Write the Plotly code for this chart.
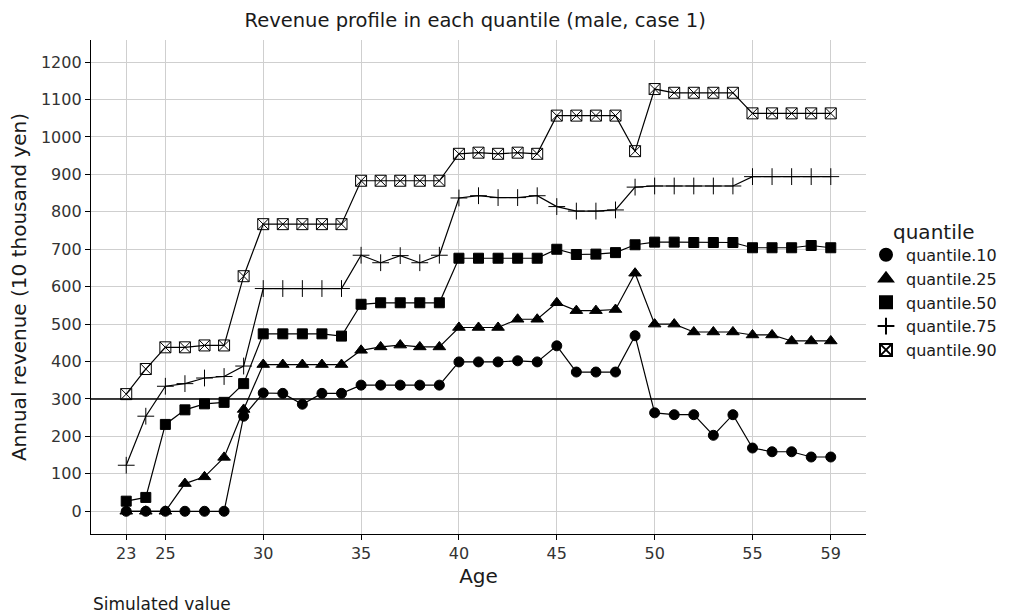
import plotly.graph_objects as go

# Age axis and revenue per quantile (10 thousand yen)
ages = list(range(23, 60))

q10 = [0, 0, 0, 0, 0, 0, 254, 316, 315, 286, 315, 315,
       337, 337, 337, 337, 337, 399, 399, 399, 402, 399,
       442, 372, 372, 372, 469, 263, 258, 258, 203, 258,
       169, 159, 159, 145, 145]
q25 = [0, 0, 0, 74, 92, 144, 272, 392, 392, 392, 392, 392,
       430, 439, 444, 439, 439, 491, 491, 491, 513, 513,
       557, 536, 536, 539, 636, 500, 500, 479, 479, 479,
       471, 471, 455, 455, 455]
q50 = [27, 37, 232, 271, 287, 291, 341, 474, 474, 474, 474, 468,
       553, 557, 557, 557, 557, 676, 676, 676, 676, 676,
       700, 686, 687, 691, 712, 719, 719, 718, 718, 718,
       704, 704, 704, 710, 704]
q75 = [123, 254, 334, 341, 356, 360, 388, 595, 595, 595, 595, 595,
       684, 664, 683, 664, 684, 837, 843, 838, 838, 843,
       814, 802, 802, 805, 866, 869, 869, 869, 869, 869,
       894, 894, 894, 894, 894]
q90 = [313, 380, 438, 438, 443, 443, 628, 767, 767, 767, 767, 767,
       883, 883, 883, 883, 883, 955, 958, 955, 958, 955,
       1057, 1057, 1057, 1057, 962, 1128, 1118, 1118, 1118, 1118,
       1063, 1063, 1063, 1063, 1063]

series = [
    ("quantile.10", q10, "circle", 10),
    ("quantile.25", q25, "triangle-up", 11),
    ("quantile.50", q50, "square", 10),
    ("quantile.75", q75, "cross-thin-open", 12),
    ("quantile.90", q90, "square-x-open", 11),
]

reference_line = 300
x_ticks = [23, 25, 30, 35, 40, 45, 50, 55, 59]
y_ticks = list(range(0, 1300, 100))

FONT = "DejaVu Sans"
TEXT = "#1a1a1a"
fig = go.Figure()

# connecting lines (kept out of the legend)
for name, vals, sym, sz in series:
    fig.add_trace(go.Scatter(
        x=ages, y=vals, mode="lines",
        line=dict(color="black", width=1.2),
        showlegend=False, hoverinfo="skip"))

# point markers carry the legend entries
for name, vals, sym, sz in series:
    fig.add_trace(go.Scatter(
        x=ages, y=vals, mode="markers", name=name,
        marker=dict(symbol=sym, size=sz, color="black",
                    line=dict(color="black", width=1.0))))

fig.add_hline(y=reference_line, line=dict(color="black", width=1.3), layer="above")

axis_common = dict(
    showline=True, linecolor="black", linewidth=1.3,
    ticks="outside", ticklen=5, tickcolor="black", tickwidth=1.2,
    showgrid=True, gridcolor="#cfcfcf", gridwidth=1,
    zeroline=False, mirror=False,
    tickfont=dict(family=FONT, size=16, color="#333333"),
)

fig.update_layout(
    width=1011, height=615,
    margin=dict(l=91, r=145, t=40, b=81, autoexpand=False),
    paper_bgcolor="white", plot_bgcolor="white",
    font=dict(family=FONT, color=TEXT),
    title=dict(text="Revenue profile in each quantile (male, case 1)",
               x=0.47, xanchor="center", y=0.967, yanchor="middle",
               font=dict(family=FONT, size=19.5, color=TEXT)),
    xaxis=dict(range=[21.2, 60.8], tickvals=x_ticks,
               title=dict(text="Age", font=dict(family=FONT, size=20, color=TEXT), standoff=6),
               **axis_common),
    yaxis=dict(range=[-60.7, 1259], tickvals=y_ticks,
               title=dict(text="Annual revenue (10 thousand yen)",
                          font=dict(family=FONT, size=20, color=TEXT), standoff=8),
               **axis_common),
    legend=dict(font=dict(family=FONT, size=16, color=TEXT),
                x=1.0, xanchor="left", y=0.469, yanchor="middle",
                tracegroupgap=0, itemsizing="constant",
                bgcolor="rgba(0,0,0,0)"),
    annotations=[
        dict(text="quantile", xref="paper", yref="paper",
             x=1.032, xanchor="left", y=0.611, yanchor="middle",
             showarrow=False, font=dict(family=FONT, size=20, color=TEXT)),
        dict(text="Simulated value", xref="paper", yref="paper",
             x=0, xanchor="left", y=-0.142, yanchor="middle",
             showarrow=False, font=dict(family=FONT, size=17, color=TEXT)),
    ],
)

fig.write_html("out.html")
